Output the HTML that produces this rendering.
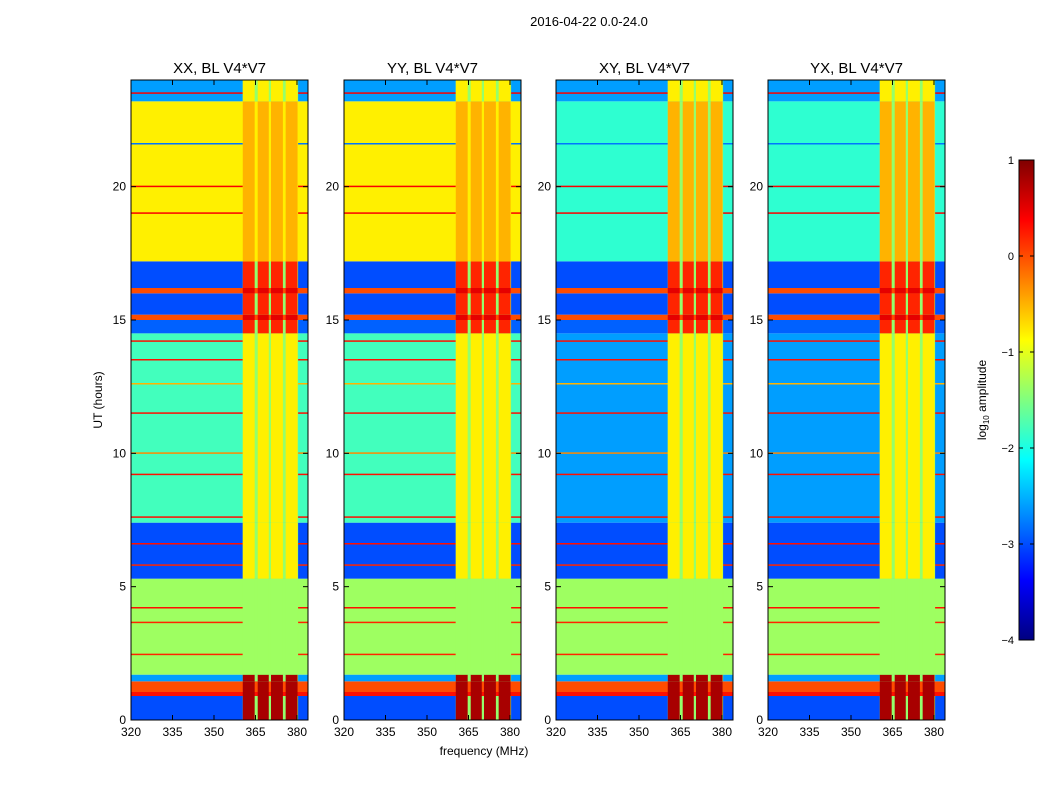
<!DOCTYPE html>
<html><head><meta charset="utf-8"><style>
body{margin:0;background:#fff;font-family:"Liberation Sans","DejaVu Sans",sans-serif;}
svg text{font-family:"Liberation Sans","DejaVu Sans",sans-serif;}
</style></head><body>
<svg id="fig" width="1050" height="800" xmlns="http://www.w3.org/2000/svg">
<defs>
<linearGradient id="jet" x1="0" y1="1" x2="0" y2="0"></linearGradient>
</defs>
<text x="589" y="26" font-size="13" text-anchor="middle">2016-04-22 0.0-24.0</text>
</svg>
<script>
const pols = ["XX","YY","XY","YX"];
const bandEdges = [0,0.9,1.05,1.45,1.7,5.3,7.4,14.5,15.0,15.2,16.0,16.2,17.2,23.2,24];
const valsXX = [-3.0,0.3,0.0,-2.6,-1.35,-3.0,-1.8,-2.9,0.0,-3.0,0.0,-3.0,-0.8,-2.6];
const valsYY = [-3.0,0.3,0.0,-2.6,-1.35,-3.0,-1.8,-2.9,0.0,-3.0,0.0,-3.0,-0.8,-2.6];
const valsXY = [-3.0,0.3,0.0,-2.6,-1.35,-3.0,-2.6,-2.9,0.0,-3.0,0.0,-3.0,-1.9,-2.6];
const valsYX = [-3.0,0.3,0.0,-2.6,-1.35,-3.0,-2.6,-2.9,0.0,-3.0,0.0,-3.0,-1.9,-2.6];
const bandVals = [valsXX,valsYY,valsXY,valsYX];
const rfiVals = [0.8,0.8,0.8,0.8,-1.35,-0.8,-0.8,0.2,0.5,0.2,0.5,0.2,-0.5,-0.8];
const rfiCols = [[360.4,364.7],[365.8,369.8],[370.6,374.9],[375.9,380.2]];
const lineTimes = [2.45,3.65,4.2,5.8,6.6,7.6,9.2,10.0,11.5,12.6,13.5,14.2,19.0,20.0,21.6,23.5];
const lineVals  = [0.2,0.2,0.3,0.2,0.3,0.3,0.3,-0.3,0.3,-0.5,0.3,0.3,0.4,0.4,-2.8,0.4];
const xTicks=[320,335,350,365,380], yTicks=[0,5,10,15,20];
const cbTicks=[1,0,-1,-2,-3,-4];

function jetT(t){t=Math.max(0,Math.min(1,t));
 const f=(a)=>Math.max(0,Math.min(1,1.5-Math.abs(4*t-a)));
 return `rgb(${Math.round(255*f(3))},${Math.round(255*f(2))},${Math.round(255*f(1))})`;}
function jet(v){return jetT((v+4)/5);}
const NS="http://www.w3.org/2000/svg", svg=document.getElementById('fig');
function mk(tag,attrs,parent){const e=document.createElementNS(NS,tag);for(const k in attrs)e.setAttribute(k,attrs[k]);(parent||svg).appendChild(e);return e;}
const grad=document.getElementById('jet');
for(let i=0;i<=40;i++){mk('stop',{offset:i/40,'stop-color':jetT(i/40)},grad);}
const panelX=[131,344,556,768], PW=177, PT=80, PB=720;
const fx=(f,x0)=>x0+(f-320)*2.7667;
const ty=(t)=>PB-t*(PB-PT)/24;

pols.forEach((p,pi)=>{
 const x0=panelX[pi];
 const g=mk('g',{});
 
 
 const vals=bandVals[pi];
 for(let i=0;i<vals.length;i++){
  const y1=ty(bandEdges[i+1]),y0=ty(bandEdges[i]);
  const r=mk('rect',{x:x0,y:y1,width:PW,height:y0-y1,fill:jet(vals[i])},g);
  
  
 }
 lineTimes.forEach((t,i)=>{
  const r=mk('rect',{x:x0,y:ty(t)-1,width:PW,height:1.5,fill:jet(lineVals[i])},g);
  
  
 });
 for(let i=0;i<vals.length;i++){
  const y1=ty(bandEdges[i+1]),y0=ty(bandEdges[i]);
  const base=Math.max(vals[i],-1.4);
  const rb=mk('rect',{x:fx(360.4,x0),y:y1,width:fx(380.4,x0)-fx(360.4,x0),height:y0-y1,fill:jet(base)},g);
  
  
  rfiCols.forEach(c=>{
   const r=mk('rect',{x:fx(c[0],x0),y:y1,width:fx(c[1],x0)-fx(c[0],x0),height:y0-y1,fill:jet(Math.max(vals[i],rfiVals[i]))},g);
   
   
  });
 }
 mk('rect',{x:x0,y:PT,width:PW,height:PB-PT,fill:'none',stroke:'#000','stroke-width':1},g);
 const tt=mk('text',{x:x0+PW/2,y:73,'font-size':15,'text-anchor':'middle'},g);tt.textContent=p+', BL V4*V7';
 
 
 xTicks.forEach(f=>{const x=fx(f,x0);
  mk('line',{x1:x,x2:x,y1:PB,y2:PB-5,stroke:'#000'},g);mk('line',{x1:x,x2:x,y1:PT,y2:PT+5,stroke:'#000'},g);
  const t=mk('text',{x:x,y:PB+16,'font-size':12,'text-anchor':'middle'},g);t.textContent=f;
  
  });
 yTicks.forEach(v=>{const y=ty(v);
  mk('line',{x1:x0,x2:x0+5,y1:y,y2:y,stroke:'#000'},g);mk('line',{x1:x0+PW,x2:x0+PW-5,y1:y,y2:y,stroke:'#000'},g);
  const t=mk('text',{x:x0-5,y:y+4,'font-size':12,'text-anchor':'end'},g);t.textContent=v;
  
  });
});
let t=mk('text',{x:484,y:755,'font-size':12,'text-anchor':'middle'});t.textContent='frequency (MHz)';


t=mk('text',{x:102,y:400,'font-size':12,'text-anchor':'middle',transform:'rotate(-90 102 400)'});t.textContent='UT (hours)';


const cb=mk('rect',{x:1019,y:160,width:15,height:480,fill:'url(#jet)',stroke:'#000'});


cbTicks.forEach(v=>{const y=160+(1-v)*96;
 mk('line',{x1:1019,x2:1023,y1:y,y2:y,stroke:'#000'});mk('line',{x1:1034,x2:1030,y1:y,y2:y,stroke:'#000'});
 const l=mk('text',{x:1014,y:y+4,'font-size':11,'text-anchor':'end'});l.textContent=(v<0?'\u2212'+(-v):v);
 
 });
t=mk('text',{x:986,y:400,'font-size':12,'text-anchor':'middle',transform:'rotate(-90 986 400)'});
t.innerHTML='log<tspan font-size="8" dy="3">10</tspan><tspan dy="-3"> amplitude</tspan>';


</script>
</body></html>
